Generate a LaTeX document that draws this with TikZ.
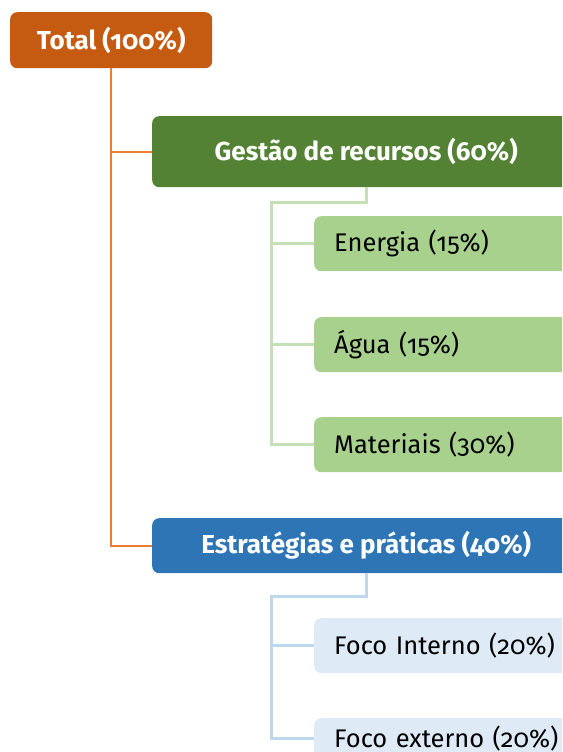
\documentclass[tikz,border=0pt]{standalone}
\usepackage{fontspec}
\setmainfont{Fira Sans}[Numbers=OldStyle]
\usetikzlibrary{positioning}
\definecolor{totalfill}{HTML}{C55A11}
\definecolor{totalline}{HTML}{ED7D31}
\definecolor{recfill}{HTML}{548235}
\definecolor{recitem}{HTML}{A9D18E}
\definecolor{recline}{HTML}{C5E0B4}
\definecolor{estfill}{HTML}{2E75B6}
\definecolor{estitem}{HTML}{DEEBF7}
\definecolor{estline}{HTML}{BDD7EE}

\tikzset{
  box/.style={rounded corners=7pt, inner sep=0pt, anchor=north west},
  headbox/.style={box, text=white, font=\bfseries\fontsize{26}{30}\selectfont},
  itembox/.style={box, minimum height=55pt, text width=246pt, inner xsep=20pt,
    align=left, font=\fontsize{25.5}{30}\selectfont},
  link/.style={line width=2pt}
}

\begin{document}
\begin{tikzpicture}[x=1pt,y=-1pt]
    \useasboundingbox (0,0) rectangle (562,752);
    \clip (0,0) rectangle (562,752);

    \node[headbox, fill=totalfill, minimum width=202pt, minimum height=56pt] (total) at (10,12) {Total (100\%)};

    \node[headbox, fill=recfill, minimum width=428pt, minimum height=71pt] (gestao) at (152,116) {Gestão de recursos (60\%)};
    \node[itembox, fill=recitem] (energia) at (314,216) {Energia (15\%)};
    \node[itembox, fill=recitem] (agua) at (314,317) {Água (15\%)};
    \node[itembox, fill=recitem] (materiais) at (314,417) {Materiais (30\%)};

    \node[headbox, fill=estfill, minimum width=428pt, minimum height=55pt] (estrat) at (152,518) {Estratégias e práticas (40\%)};
    \node[itembox, fill=estitem] (interno) at (314,618) {Foco Interno (20\%)};
    \node[itembox, fill=estitem, minimum height=40pt] (externo) at (314,718) {Foco externo (20\%)};

    \coordinate (rectrunk) at (271,202);
    \coordinate (esttrunk) at (271,596);

    \draw[link, totalline] (total.south) -- (total.south |- estrat.west) -- (estrat.west);
    \draw[link, totalline] (total.south |- gestao.west) -- (gestao.west);

    \draw[link, recline, line width=3pt] (gestao.south) -- (gestao.south |- rectrunk) -- (rectrunk) -- (rectrunk |- materiais.west) -- (materiais.west);
    \draw[link, recline, line width=3pt] (rectrunk |- energia.west) -- (energia.west);
    \draw[link, recline, line width=3pt] (rectrunk |- agua.west) -- (agua.west);

    \draw[link, estline, line width=3pt] (estrat.south) -- (estrat.south |- esttrunk) -- (esttrunk) -- (esttrunk |- externo.west) -- (externo.west);
    \draw[link, estline, line width=3pt] (esttrunk |- interno.west) -- (interno.west);
\end{tikzpicture}
\end{document}
